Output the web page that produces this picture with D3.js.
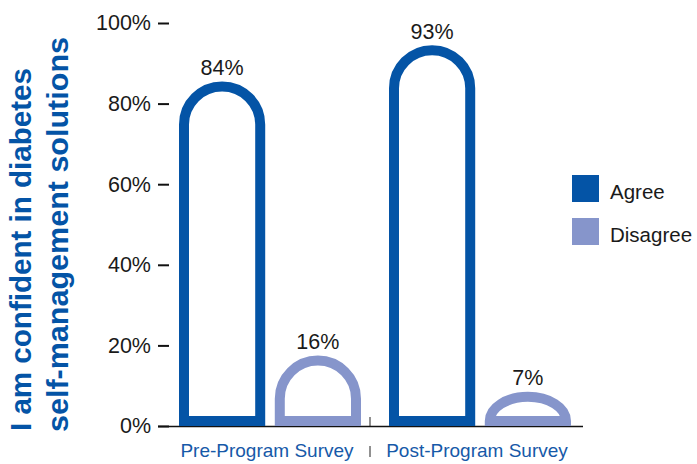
<!DOCTYPE html>
<html>
<head>
<meta charset="utf-8">
<script src="https://cdn.jsdelivr.net/npm/d3@7"></script>
<style>
  html, body { margin: 0; padding: 0; background: #fff; }
  svg { display: block; font-family: "Liberation Sans", Arial, sans-serif; }
</style>
</head>
<body>
<svg id="chart" width="697" height="464"></svg>
<script>
// Survey groups, response series and their shares (%)
const surveys = ["Pre-Program Survey", "Post-Program Survey"];
const responses = ["Agree", "Disagree"];
const agreeValues = [84, 93];
const disagreeValues = [16, 7];
const yTicks = [0, 20, 40, 60, 80, 100];
const titleLines = ["I am confident in diabetes", "self-management solutions"];

const colors = { Agree: "#0454a6", Disagree: "#8695cb" };
const strokeW = 10;

const svg = d3.select("#chart");

const y = d3.scaleLinear().domain([0, 100]).range([426, 23]);
const x0 = d3.scaleBand().domain(surveys).range([160, 580]).padding(0);
const x1 = d3.scaleBand().domain(responses).range([19, 201]).paddingInner(0.1);

const rows = surveys.map((s, i) => ({
  survey: s,
  items: [
    { key: "Agree", value: agreeValues[i] },
    { key: "Disagree", value: disagreeValues[i] }
  ]
}));

// Y axis: short dashes with percent labels
const yAxis = d3.axisLeft(y)
  .tickValues(yTicks)
  .tickFormat(d => d + "%")
  .tickSize(11)
  .tickPadding(7);

const gy = svg.append("g")
  .attr("transform", "translate(169,0)")
  .call(yAxis);
gy.select(".domain").remove();
gy.selectAll(".tick line").attr("stroke", "#111").attr("stroke-width", 2);
gy.selectAll(".tick text")
  .attr("fill", "#1a1a1a")
  .style("font-size", "21.5px")
  .style("font-family", "'Liberation Sans', Arial, sans-serif");

// Baseline
svg.append("line")
  .attr("x1", 158).attr("x2", 583)
  .attr("y1", y(0) + 0.5).attr("y2", y(0) + 0.5)
  .attr("stroke", "#111").attr("stroke-width", 1.5);

// Separators between the two surveys
svg.append("line")
  .attr("x1", x0(surveys[1])).attr("x2", x0(surveys[1]))
  .attr("y1", y(0) - 9).attr("y2", y(0))
  .attr("stroke", "#222").attr("stroke-width", 1);
svg.append("line")
  .attr("x1", x0(surveys[1])).attr("x2", x0(surveys[1]))
  .attr("y1", 446).attr("y2", 457)
  .attr("stroke", "#222").attr("stroke-width", 1);

// Arch-shaped outlined bars: straight sides with a rounded (or flattened) top
function archPath(left, width, value) {
  const h = strokeW / 2;
  const xa = left + h, xb = left + width - h;
  const bottom = y(0) - h;
  const top = y(value) - 1;
  const rx = (xb - xa) / 2;
  const ry = Math.min(rx, bottom - top);
  return `M${xa},${bottom} L${xa},${top + ry} A${rx},${ry} 0 0 1 ${xb},${top + ry} L${xb},${bottom} Z`;
}

const groups = svg.append("g").selectAll("g")
  .data(rows)
  .join("g")
  .attr("transform", d => `translate(${x0(d.survey)},0)`);

groups.selectAll("path")
  .data(d => d.items)
  .join("path")
  .attr("d", d => archPath(x1(d.key), x1.bandwidth(), d.value))
  .attr("fill", "none")
  .attr("stroke", d => colors[d.key])
  .attr("stroke-width", strokeW)
  .attr("stroke-linejoin", "miter");

groups.selectAll("text.val")
  .data(d => d.items)
  .join("text")
  .attr("class", "val")
  .attr("x", d => x1(d.key) + x1.bandwidth() / 2)
  .attr("y", d => y(d.value) - 1 - strokeW / 2 - 6.5)
  .attr("text-anchor", "middle")
  .attr("fill", "#1a1a1a")
  .style("font-size", "21.5px")
  .text(d => d.value + "%");

// Survey labels
svg.append("g").selectAll("text")
  .data(surveys)
  .join("text")
  .attr("x", d => x0(d) + 107)
  .attr("y", 457)
  .attr("text-anchor", "middle")
  .attr("fill", "#1659a8")
  .style("font-size", "19px")
  .text(d => d);

// Legend
const legend = svg.append("g").selectAll("g")
  .data(responses)
  .join("g")
  .attr("transform", (d, i) => `translate(572,${175 + i * 43})`);
legend.append("rect")
  .attr("width", 27).attr("height", 27)
  .attr("fill", d => colors[d]);
legend.append("text")
  .attr("x", 38).attr("y", 24)
  .attr("fill", "#1a1a1a")
  .style("font-size", "20.5px")
  .text(d => d);

// Rotated two-line axis title
const titleX = [31, 68];
const titleLen = [363, 395];
svg.append("g").selectAll("text")
  .data(titleLines)
  .join("text")
  .attr("transform", (d, i) => `translate(${titleX[i]},${431 + i}) rotate(-90)`)
  .attr("fill", "#0454a6")
  .style("font-size", "30px")
  .style("font-weight", "bold")
  .attr("textLength", (d, i) => titleLen[i])
  .attr("lengthAdjust", "spacingAndGlyphs")
  .text(d => d);
</script>
</body>
</html>
